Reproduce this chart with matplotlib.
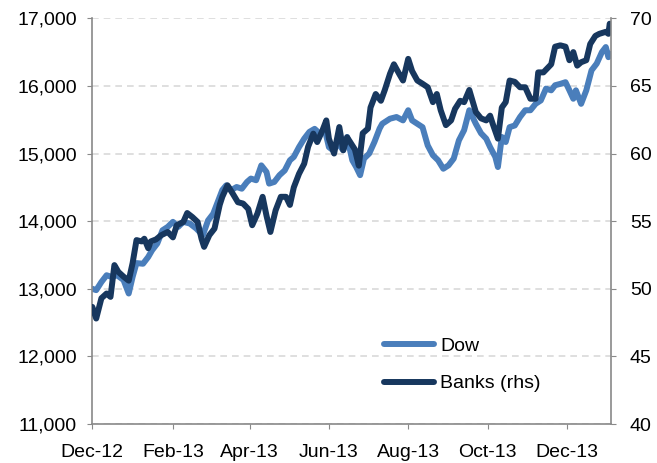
import matplotlib.pyplot as plt
import matplotlib.dates as mdates
from matplotlib.ticker import FuncFormatter
import pandas as pd

# values (Dow level, left axis; bank index, right axis)
dow_dates = [
    "2012-12-01", "2012-12-04", "2012-12-08", "2012-12-12", "2012-12-16", "2012-12-20",
    "2012-12-25", "2012-12-29", "2013-01-01", "2013-01-04", "2013-01-09", "2013-01-13",
    "2013-01-16", "2013-01-20", "2013-01-24", "2013-01-28", "2013-02-01", "2013-02-05",
    "2013-02-09", "2013-02-14", "2013-02-19", "2013-02-24", "2013-02-28", "2013-03-04",
    "2013-03-08", "2013-03-11", "2013-03-14", "2013-03-18", "2013-03-22", "2013-03-26",
    "2013-03-30", "2013-04-02", "2013-04-06", "2013-04-10", "2013-04-14", "2013-04-16",
    "2013-04-20", "2013-04-24", "2013-04-28", "2013-05-02", "2013-05-05", "2013-05-09",
    "2013-05-13", "2013-05-17", "2013-05-21", "2013-05-25", "2013-05-29", "2013-06-01",
    "2013-06-04", "2013-06-08", "2013-06-12", "2013-06-15", "2013-06-19", "2013-06-22",
    "2013-06-25", "2013-06-28", "2013-07-02", "2013-07-06", "2013-07-10", "2013-07-12",
    "2013-07-18", "2013-07-23", "2013-07-28", "2013-08-01", "2013-08-04", "2013-08-08",
    "2013-08-12", "2013-08-16", "2013-08-20", "2013-08-24", "2013-08-28", "2013-09-01",
    "2013-09-05", "2013-09-09", "2013-09-13", "2013-09-17", "2013-09-22", "2013-09-26",
    "2013-09-30", "2013-10-03", "2013-10-07", "2013-10-09", "2013-10-12", "2013-10-15",
    "2013-10-18", "2013-10-22", "2013-10-26", "2013-10-30", "2013-11-03", "2013-11-07",
    "2013-11-11", "2013-11-15", "2013-11-19", "2013-11-22", "2013-11-26", "2013-11-30",
    "2013-12-03", "2013-12-06", "2013-12-08", "2013-12-12", "2013-12-16", "2013-12-20",
    "2013-12-24", "2013-12-28", "2013-12-31", "2014-01-02", "2014-01-03",
]
dow = [
    13000, 12980, 13100, 13200, 13175, 13200,
    13130, 12930, 13175, 13380, 13370, 13470,
    13570, 13670, 13865, 13915, 13990, 13915,
    13990, 13965, 13890, 13790, 14010, 14110,
    14310, 14460, 14530, 14460, 14505, 14480,
    14580, 14630, 14605, 14825, 14727, 14555,
    14580, 14680, 14750, 14900, 14950, 15095,
    15220, 15320, 15365, 15295, 15340, 15095,
    15050, 15145, 15050, 15245, 14900, 14800,
    14680, 14925, 15000, 15170, 15370, 15440,
    15515, 15540, 15490, 15640, 15490, 15440,
    15390, 15120, 14975, 14900, 14775, 14825,
    14925, 15195, 15345, 15640, 15440, 15300,
    15220, 15095, 14950, 14800, 15245, 15170,
    15390, 15415, 15540, 15640, 15640, 15735,
    15785, 15960, 15935, 16010, 16030, 16055,
    15935, 15810, 15935, 15735, 15935, 16230,
    16330, 16500, 16575, 16425, 16475,
]

bank_dates = [
    "2012-12-01", "2012-12-04", "2012-12-08", "2012-12-12", "2012-12-15", "2012-12-18",
    "2012-12-21", "2012-12-25", "2012-12-29", "2013-01-01", "2013-01-04", "2013-01-08",
    "2013-01-10", "2013-01-13", "2013-01-15", "2013-01-19", "2013-01-23", "2013-01-28",
    "2013-02-01", "2013-02-04", "2013-02-09", "2013-02-12", "2013-02-16", "2013-02-20",
    "2013-02-23", "2013-02-25", "2013-03-01", "2013-03-05", "2013-03-09", "2013-03-11",
    "2013-03-15", "2013-03-19", "2013-03-23", "2013-03-27", "2013-03-31", "2013-04-03",
    "2013-04-07", "2013-04-11", "2013-04-14", "2013-04-17", "2013-04-21", "2013-04-25",
    "2013-04-29", "2013-05-02", "2013-05-05", "2013-05-09", "2013-05-13", "2013-05-16",
    "2013-05-20", "2013-05-23", "2013-05-27", "2013-05-30", "2013-06-01", "2013-06-05",
    "2013-06-09", "2013-06-12", "2013-06-15", "2013-06-21", "2013-06-24", "2013-06-27",
    "2013-07-01", "2013-07-03", "2013-07-07", "2013-07-11", "2013-07-14", "2013-07-18",
    "2013-07-21", "2013-07-25", "2013-07-28", "2013-08-01", "2013-08-04", "2013-08-08",
    "2013-08-12", "2013-08-16", "2013-08-20", "2013-08-23", "2013-08-26", "2013-08-30",
    "2013-09-03", "2013-09-06", "2013-09-10", "2013-09-13", "2013-09-17", "2013-09-22",
    "2013-09-26", "2013-09-30", "2013-10-03", "2013-10-05", "2013-10-09", "2013-10-12",
    "2013-10-15", "2013-10-18", "2013-10-22", "2013-10-26", "2013-10-30", "2013-11-03",
    "2013-11-07", "2013-11-09", "2013-11-13", "2013-11-19", "2013-11-22", "2013-11-26",
    "2013-11-30", "2013-12-03", "2013-12-06", "2013-12-09", "2013-12-12", "2013-12-16",
    "2013-12-19", "2013-12-23", "2013-12-26", "2013-12-31", "2014-01-02", "2014-01-03",
]
banks = [
    48.66, 47.8, 49.3, 49.65, 49.4, 51.75,
    51.25, 50.9, 50.6, 51.9, 53.6, 53.5,
    53.7, 53.0, 53.5, 53.65, 53.96, 54.2,
    53.8, 54.7, 54.94, 55.6, 55.3, 54.94,
    53.7, 53.1, 53.96, 54.45, 56.2, 56.8,
    57.65, 57.04, 56.4, 56.3, 55.9, 54.7,
    55.56, 56.8, 55.4, 54.2, 55.8, 56.8,
    56.8, 56.2, 57.5, 58.5, 59.25, 60.5,
    61.47, 60.85, 61.7, 62.45, 61.1, 60.0,
    61.96, 60.24, 61.2, 60.3, 59.1, 61.5,
    61.84, 63.4, 64.4, 63.9, 64.7, 65.9,
    66.6, 65.9, 65.4, 67.0, 66.1, 65.4,
    65.16, 64.9, 63.8, 64.4, 63.2, 62.1,
    62.45, 63.3, 63.9, 63.8, 64.7, 63.07,
    62.6, 62.45, 62.8, 62.2, 61.1, 63.4,
    63.8, 65.4, 65.3, 64.9, 64.9, 64.05,
    64.05, 66.0, 66.0, 66.6, 67.9, 68.0,
    67.9, 66.9, 67.5, 66.5, 66.75, 66.9,
    68.1, 68.7, 68.85, 69.0, 68.85, 69.6,
]

tick_dates = ["2012-12-01", "2013-02-01", "2013-04-01", "2013-06-01",
              "2013-08-01", "2013-10-01", "2013-12-01"]

DOW_COL = "#4A7EBB"
BANK_COL = "#17375E"
AXIS_COL = "#898989"

plt.rcParams["font.family"] = ["Liberation Sans", "DejaVu Sans"]
plt.rcParams["font.size"] = 14

fig = plt.figure(figsize=(6.57, 4.63), dpi=100)
ax = fig.add_axes([0.1405, 0.0842, 0.7895, 0.8763])
ax2 = ax.twinx()

l1, = ax.plot(pd.to_datetime(dow_dates), dow, color=DOW_COL, lw=4.3,
              solid_joinstyle="round", solid_capstyle="round", label="Dow")
l2, = ax2.plot(pd.to_datetime(bank_dates), banks, color=BANK_COL, lw=4.3,
               solid_joinstyle="round", solid_capstyle="round", label="Banks (rhs)")

ax.set_ylim(11000, 17000)
ax.set_yticks(range(11000, 17001, 1000))
ax.yaxis.set_major_formatter(FuncFormatter(lambda v, p: f"{int(v):,}"))
ax2.set_ylim(40, 70)
ax2.set_yticks(range(40, 71, 5))

ax.set_xlim(pd.Timestamp("2012-12-01"), pd.Timestamp("2014-01-04"))
ax.set_xticks(pd.to_datetime(tick_dates))
ax.xaxis.set_major_formatter(mdates.DateFormatter("%b-%y"))

ax.grid(axis="y", color="#D9D9D9", linestyle=(0, (4, 3)), lw=1.2)
ax.set_axisbelow(True)

for a in (ax, ax2):
    a.spines["top"].set_visible(False)
    for s in ("left", "right", "bottom"):
        a.spines[s].set_color(AXIS_COL)
        a.spines[s].set_linewidth(1.2)
ax.spines["right"].set_visible(False)
ax2.spines["left"].set_visible(False)
ax2.spines["bottom"].set_visible(False)

ax.tick_params(axis="y", length=3.6, color=AXIS_COL, pad=7.5)
ax.tick_params(axis="x", length=3.6, color=AXIS_COL, pad=11)
ax2.tick_params(axis="y", length=3.6, color=AXIS_COL, pad=10)

ax2.legend([l1, l2], ["Dow", "Banks (rhs)"], loc="upper left",
           bbox_to_anchor=(384 / 657, 1 - 337 / 463), bbox_transform=fig.transFigure,
           frameon=False, borderpad=0, borderaxespad=0, handlelength=2.55,
           handletextpad=0.35, labelspacing=1.04)

fig.savefig("out.png", dpi=100)
